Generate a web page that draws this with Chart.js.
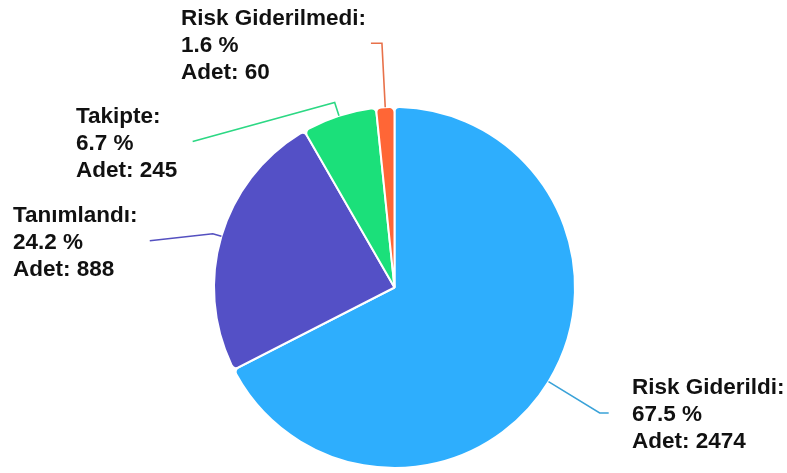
<!DOCTYPE html>
<html>
<head>
<meta charset="utf-8">
<script src="https://cdn.jsdelivr.net/npm/chart.js@4"></script>
<style>
html,body{margin:0;padding:0;background:#fff;}
#c{display:block;}
</style>
</head>
<body>
<canvas id="c" width="787" height="473"></canvas>
<script>
const categories = ["Risk Giderildi", "Tanımlandı", "Takipte", "Risk Giderilmedi"];
const counts = [2474, 888, 245, 60];
const percentLabels = ["67.5 %", "24.2 %", "6.7 %", "1.6 %"];
const colors = ["#2EAEFD", "#5450C6", "#1BE07A", "#FF6636"];
const lineColors = ["#3AA2D8", "#5450C0", "#2CD884", "#E8714A"];

// label layout: elbow radial extension, line end offset from elbow, text left x
const labelLayout = [
  {ext: 60, dx: 9,    dy: 0,  textX: 632},
  {ext: 9,  dx: -63,  dy: 7,  textX: 13},
  {ext: 14, dx: -142, dy: 39, textX: 76},
  {ext: 64, dx: -11,  dy: 0,  textX: 181}
];

const labelPlugin = {
  id: 'pieLabels',
  afterDatasetsDraw(chart) {
    const ctx = chart.ctx;
    const meta = chart.getDatasetMeta(0);
    ctx.save();
    meta.data.forEach((arc, i) => {
      const p = arc.getProps(['x','y','startAngle','endAngle','outerRadius'], true);
      const mid = (p.startAngle + p.endAngle) / 2;
      const L = labelLayout[i];
      const sx = p.x + Math.cos(mid) * p.outerRadius;
      const sy = p.y + Math.sin(mid) * p.outerRadius;
      const ex = p.x + Math.cos(mid) * (p.outerRadius + L.ext);
      const ey = p.y + Math.sin(mid) * (p.outerRadius + L.ext);
      const fx = ex + L.dx, fy = ey + L.dy;
      ctx.strokeStyle = lineColors[i];
      ctx.lineWidth = 1.6;
      ctx.beginPath();
      ctx.moveTo(sx, sy);
      ctx.lineTo(ex, ey);
      ctx.lineTo(fx, fy);
      ctx.stroke();
      ctx.fillStyle = '#111';
      ctx.font = 'bold 22.5px "Liberation Sans", Arial, sans-serif';
      ctx.textAlign = 'left';
      ctx.textBaseline = 'middle';
      const lines = [categories[i] + ':', percentLabels[i], 'Adet: ' + counts[i]];
      const cy = fy + 2;
      lines.forEach((t, k) => {
        ctx.fillText(t, L.textX, cy + (k - 1) * 27);
      });
    });
    ctx.restore();
  }
};

new Chart(document.getElementById('c'), {
  type: 'pie',
  data: {
    labels: categories,
    datasets: [{
      data: counts,
      backgroundColor: colors,
      borderColor: '#ffffff',
      borderWidth: 2,
      borderRadius: 5,
      hoverOffset: 0
    }]
  },
  options: {
    responsive: false,
    animation: false,
    events: [],
    layout: {padding: {left: 213, right: 211, top: 106, bottom: 4}},
    plugins: {legend: {display: false}, tooltip: {enabled: false}}
  },
  plugins: [labelPlugin]
});
</script>
</body>
</html>
